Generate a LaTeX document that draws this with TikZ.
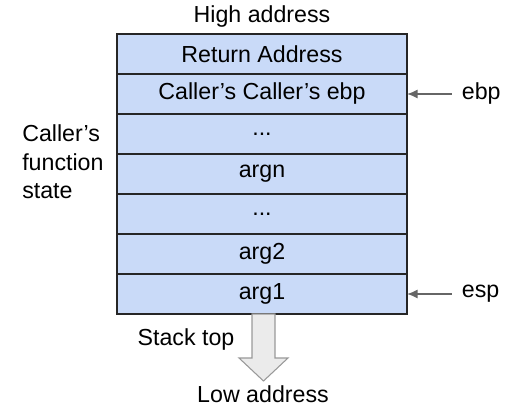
\documentclass[tikz,border=0pt]{standalone}
\usepackage{fontspec}
\setmainfont{Liberation Sans}
\usetikzlibrary{shapes,arrows,arrows.meta,positioning}
\definecolor{slotblue}{HTML}{C9DAF8}
\definecolor{slotline}{HTML}{262626}
\tikzset{slot/.style = {draw = slotline, fill = slotblue, line width = 1pt, rectangle, outer sep = 0pt,
                        minimum width = 217.5pt, minimum height = 30pt, inner sep = 0pt},
         lbl/.style = {inner sep = 0pt},
         ptr/.style = {-{Latex[length = 8pt, width = 7pt]}, draw = black!60, line width = 1.3pt, shorten <= 7.5pt},
         bigarrow/.style = {draw = black!40, fill = black!8, line width = .8pt},
}

\begin{document}
\begin{tikzpicture}[x = .75pt, y = -.75pt, font = \fontsize{17.4}{21.4}\selectfont, node distance = 0pt]

  \useasboundingbox (0,0) rectangle (519,413);

  \node[slot] at (262,54) (ret)  {Return Address};
  \node[slot, below = of ret] (cebp) {Caller’s Caller’s ebp};
  \node[slot, below = of cebp] (dots1) {...};
  \node[slot, below = of dots1] (argn) {argn};
  \node[slot, below = of argn] (dots2) {...};
  \node[slot, below = of dots2] (arg2) {arg2};
  \node[slot, below = of arg2] (arg1) {arg1};

  \node[lbl, above = 5pt of ret] (high) {High address};
  \node[lbl, align = left, anchor = west] at (22,162) (state) {Caller’s\\function\\state};
  \node[lbl, right = 41pt of cebp] (ebp) {ebp};
  \node[lbl, right = 41pt of arg1] (esp) {esp};
  \node[lbl] at (186,340) (top) {Stack top};
  \node[lbl] at (263,394) (low) {Low address};

  \draw[ptr] (ebp.west) -- (cebp.east);
  \draw[ptr] (esp.west) -- (arg1.east);

  % growth arrow below the stack
  \draw[bigarrow] ([xshift = -7.5pt]arg1.south) -- ++(0,44) -- ++(-13,0) -- ++(24.5,23)
    -- ++(24.5,-23) -- ++(-13,0) -- ([xshift = 9.75pt]arg1.south) -- cycle;

\end{tikzpicture}
\end{document}
